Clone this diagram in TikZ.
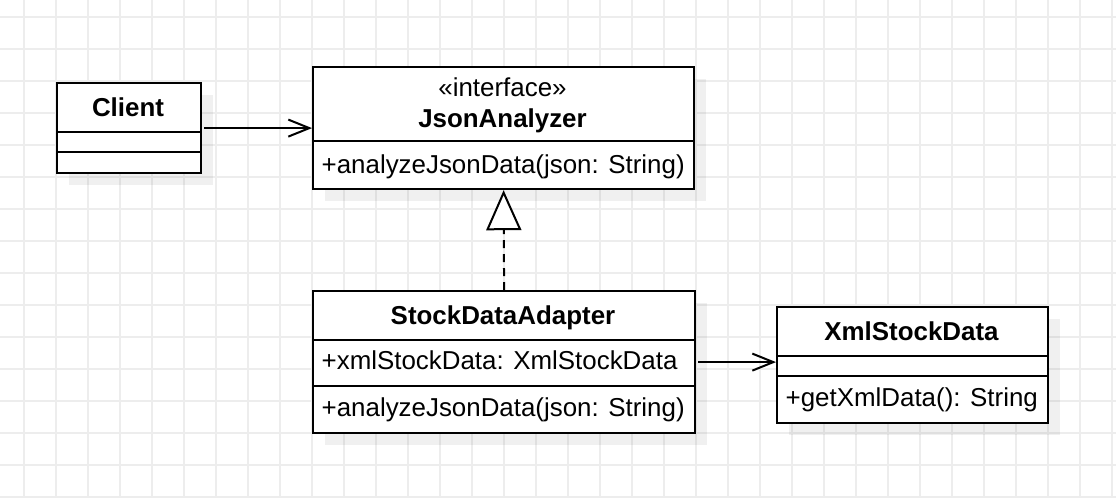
\documentclass[tikz,border=0pt]{standalone}
\usepackage{fontspec}
\setmainfont{Liberation Sans}
\usetikzlibrary{arrows.meta}

\tikzset{
  gridline/.style={draw=black!7, line width=1.6pt},
  boxshadow/.style={fill=black, fill opacity=.06},
  classbox/.style={draw, fill=white, line width=2.2pt, inner sep=0pt, anchor=north west},
  classline/.style={line width=2.2pt},
  umltext/.style={inner sep=0pt, font=\fontsize{25.9}{30}\selectfont},
  umltitle/.style={umltext, font=\fontsize{25.9}{30}\selectfont\bfseries},
  assoc/.style={line width=2pt, -{Straight Barb[length=21pt,width=17pt]}},
  realize/.style={line width=2pt, dash pattern=on 8pt off 6pt,
    -{Triangle[length=40pt,width=35pt,fill=white]}}
}

\begin{document}
\begin{tikzpicture}[x=1pt,y=-1pt]
      \useasboundingbox (0,0) rectangle (1116,498);
      \fill[white] (0,0) rectangle (1116,498);

      % background grid
      \foreach \x in {0,...,34} {
        \draw[gridline] (24+32*\x,0) -- (24+32*\x,498);
      }
      \foreach \y in {0,...,15} {
        \draw[gridline] (0,17+32*\y) -- (1116,17+32*\y);
      }

      % shadows under the 4 classes
      \fill[boxshadow] (69,95) rectangle (213,185);
      \fill[boxshadow] (325,79) rectangle (706,201);
      \fill[boxshadow] (325,303) rectangle (707,445);
      \fill[boxshadow] (789,319) rectangle (1060,435);

      % Client
      \node[classbox, minimum width=144pt, minimum height=90pt] (client) at (56,82) {};
      \draw[classline] (56,132) -- (200,132);
      \draw[classline] (56,152) -- (200,152);
      \node[umltitle, anchor=base] (clientname) at (128,116) {Client};

      % JsonAnalyzer
      \node[classbox, minimum width=381pt, minimum height=122pt] (json) at (312,66) {};
      \draw[classline] (312,141) -- (693,141);
      \node[umltext, anchor=base] (jsonstereo) at (502.5,96) {«interface»};
      \node[umltitle, anchor=base] (jsonname) at (502.5,127) {JsonAnalyzer};
      \node[umltext, anchor=base west] (jsonop) at (321.5,173) {+analyzeJsonData(json: String)};

      % StockDataAdapter
      \node[classbox, minimum width=382pt, minimum height=142pt] (adapter) at (312,290) {};
      \draw[classline] (312,340) -- (694,340);
      \draw[classline] (312,386) -- (694,386);
      \node[umltitle, anchor=base] (adaptername) at (503,324) {StockDataAdapter};
      \node[umltext, anchor=base west] (adapterattr) at (321.5,369.5) {+xmlStockData: XmlStockData};
      \node[umltext, anchor=base west] (adapterop) at (321.5,416) {+analyzeJsonData(json: String)};

      % XmlStockData
      \node[classbox, minimum width=271pt, minimum height=116pt] (xml) at (776,306) {};
      \draw[classline] (776,356) -- (1047,356);
      \draw[classline] (776,376) -- (1047,376);
      \node[umltitle, anchor=base] (xmlname) at (911.5,340) {XmlStockData};
      \node[umltext, anchor=base west] (xmlop) at (785.5,406.5) {+getXmlData(): String};

      % relations
      \draw[assoc] ([xshift=2pt]client.east) -- (client.east -| json.west);
      \draw[realize] (adapter.north) -- (json.south);
      \draw[assoc] ([xshift=2pt]adapter.east) -- (adapter.east -| xml.west);

\end{tikzpicture}
\end{document}
